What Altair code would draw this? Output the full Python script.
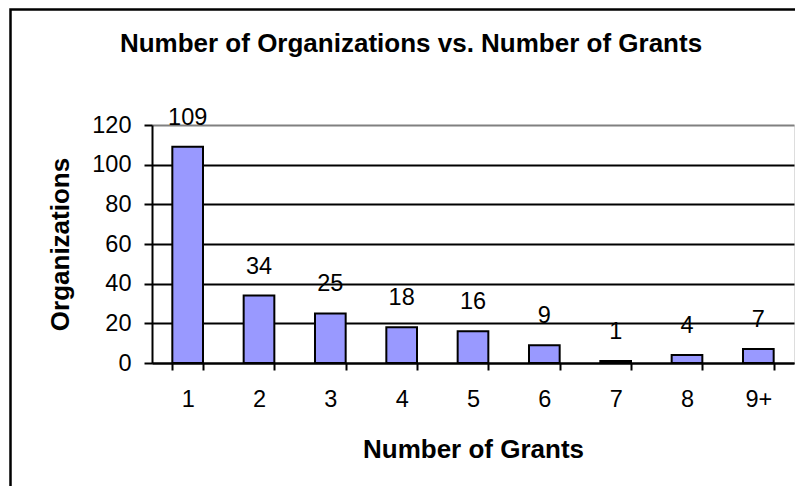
import altair as alt
import pandas as pd

categories = ["1", "2", "3", "4", "5", "6", "7", "8", "9+"]
organizations = [109, 34, 25, 18, 16, 9, 1, 4, 7]
y_ticks = [0, 20, 40, 60, 80, 100, 120]
chart_title = ["Number of Organizations vs. Number of Grants"]

df = pd.DataFrame({"grants": categories, "orgs": organizations})

FONT = "Liberation Sans"
W, H = 642, 238
LBL = 23.5
TTL = 26

x_enc = alt.X(
    "grants:N",
    sort=categories,
    scale=alt.Scale(paddingInner=0.57, paddingOuter=0.285),
    axis=alt.Axis(
        title="Number of Grants",
        labelAngle=0,
        labelFontSize=LBL,
        labelFont=FONT,
        labelColor="black",
        labelPadding=17,
        labelBaseline="top",
        labelOverlap=False,
        tickBand="extent",
        tickSize=7,
        tickWidth=2,
        tickColor="black",
        domainColor="black",
        domainWidth=2,
        titleFont=FONT,
        titleFontSize=TTL,
        titleFontWeight="bold",
        titleColor="black",
        titleX=W / 2,
        titleY=94,
        titleAlign="center",
        titleBaseline="alphabetic",
    ),
)

y_enc = alt.Y(
    "orgs:Q",
    scale=alt.Scale(domain=[0, 120], nice=False),
    axis=alt.Axis(
        title="Organizations",
        values=y_ticks,
        labelFontSize=LBL,
        labelFont=FONT,
        labelColor="black",
        labelPadding=13,
        labelOverlap=False,
        tickSize=8,
        tickWidth=2,
        tickColor="black",
        domainColor="black",
        domainWidth=2,
        grid=True,
        gridColor=alt.condition("datum.value === 120", alt.value("#808080"), alt.value("black")),
        gridWidth=2,
        gridOpacity=1,
        titleFont=FONT,
        titleFontSize=TTL,
        titleFontWeight="bold",
        titleColor="black",
        titleAngle=-90,
        titleX=-84,
        titleY=H / 2,
        titleAlign="center",
        titleBaseline="alphabetic",
    ),
)

bars = alt.Chart(df).mark_bar(color="#9999FF", stroke="black", strokeWidth=2).encode(
    x=x_enc, y=y_enc
)

labels = alt.Chart(df).mark_text(
    font=FONT, fontSize=LBL, color="black", baseline="alphabetic", align="center", dy=-22
).encode(
    x=x_enc,
    y=y_enc,
    text="orgs:Q",
)

frame = alt.Chart(pd.DataFrame({"a": [0]})).mark_rect(
    fill="transparent", stroke="black", strokeWidth=2.5
).encode(
    x=alt.value(-141.5), x2=alt.value(720), y=alt.value(-115.5), y2=alt.value(420)
)

title = alt.Chart(pd.DataFrame({"t": chart_title})).mark_text(
    font=FONT, fontSize=TTL, fontWeight="bold", color="black",
    align="center", baseline="alphabetic"
).encode(
    x=alt.value(259), y=alt.value(-73), text="t:N"
)

chart = alt.layer(frame, bars, labels, title).properties(
    width=W,
    height=H,
    autosize=alt.AutoSizeParams(type="none"),
    padding={"left": 144, "top": 117, "right": 1, "bottom": 123},
).configure_view(stroke="#808080", strokeWidth=2).configure(background="white")

chart.save("out.html", embed_options={"renderer": "svg", "actions": False})
